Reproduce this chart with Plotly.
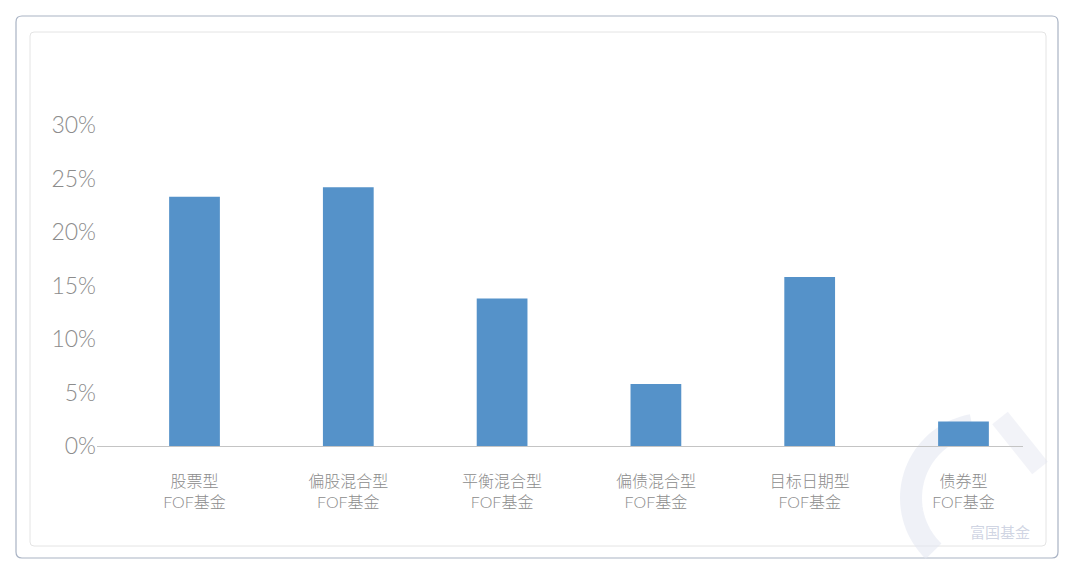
import math
import plotly.graph_objects as go

categories = ["股票型<br>FOF基金", "偏股混合型<br>FOF基金", "平衡混合型<br>FOF基金",
              "偏债混合型<br>FOF基金", "目标日期型<br>FOF基金", "债券型<br>FOF基金"]
values = [23.3, 24.2, 13.8, 5.8, 15.8, 2.3]
y_ticks = [0, 5, 10, 15, 20, 25, 30]
y_ticklabels = ["0%", "5%", "10%", "15%", "20%", "25%", "30%"]

OFF = 8  # page body margin
W, H = 1080 - OFF, 575 - OFF
L, R, T, B = 97 - OFF, 1023 - OFF, 125 - OFF, 446 - OFF  # plot area pixel bounds


def px(x):
    return (x - OFF - L) / (R - L)


def py(y):
    return (B - (y - OFF)) / (B - T)


def rounded_rect(x0, y0, x1, y1, r):
    rx = r / (R - L)
    ry = r / (B - T)
    X0, X1 = px(x0), px(x1)
    Y0, Y1 = py(y0), py(y1)
    return (f"M {X0+rx} {Y0} L {X1-rx} {Y0} Q {X1} {Y0} {X1} {Y0-ry} "
            f"L {X1} {Y1+ry} Q {X1} {Y1} {X1-rx} {Y1} "
            f"L {X0+rx} {Y1} Q {X0} {Y1} {X0} {Y1+ry} "
            f"L {X0} {Y0-ry} Q {X0} {Y0} {X0+rx} {Y0} Z")


fig = go.Figure()
fig.add_trace(go.Bar(
    x=categories, y=values,
    marker=dict(color="#5592C9", line=dict(width=0)),
    hoverinfo="skip",
))

font_family = "Lato, 'Noto Sans CJK SC', sans-serif"

shapes = [
    dict(type="path", xref="paper", yref="paper",
         path=rounded_rect(16, 16, 1058, 558, 6),
         line=dict(color="#A9B3C4", width=1.2), fillcolor="rgba(0,0,0,0)", layer="below"),
    dict(type="path", xref="paper", yref="paper",
         path=rounded_rect(30, 32, 1046, 546, 4),
         line=dict(color="#E4E4E4", width=1), fillcolor="rgba(0,0,0,0)", layer="below"),
]

# faint watermark (logo) at bottom right
cx, cy, rr = 985, 498, 74
pts = []
for i in range(0, 37):
    a = math.radians(100 + i * 3.5)
    pts.append((cx + rr * math.cos(a), cy - rr * math.sin(a)))
path = "M " + " L ".join(f"{px(x)} {py(y)}" for x, y in pts)
shapes.append(dict(type="path", xref="paper", yref="paper", path=path,
                   line=dict(color="rgba(226,229,240,0.55)", width=22), layer="below"))
shapes.append(dict(type="path", xref="paper", yref="paper",
                   path=f"M {px(1000)} {py(418)} L {px(1040)} {py(468)}",
                   line=dict(color="rgba(226,229,240,0.45)", width=20), layer="below"))

fig.update_layout(
    width=W, height=H,
    margin=dict(l=L, r=W - R, t=T, b=H - B, pad=0),
    paper_bgcolor="white", plot_bgcolor="white",
    showlegend=False,
    bargap=0.67,
    font=dict(family=font_family, color="#8C8C8C"),
    shapes=shapes,
    annotations=[dict(text="富国基金", x=px(1000), y=py(531), xref="paper", yref="paper",
                      xanchor="center", yanchor="middle",
                      showarrow=False, font=dict(size=15, color="rgba(196,202,220,0.8)",
                                                 family="'Noto Sans CJK SC'"))],
    xaxis=dict(
        range=[-0.634, 5.387],
        showline=True, linecolor="#C4C4C4", linewidth=1,
        showgrid=False, zeroline=False, ticks="",
        tickfont=dict(size=16, color="#8C8C8C", family=font_family, weight=300),
        ticklabelstandoff=21,
    ),
    yaxis=dict(
        range=[0, 30.01],
        tickvals=y_ticks, ticktext=y_ticklabels,
        showline=False, showgrid=False, zeroline=False, ticks="",
        tickfont=dict(size=23, color="#8C8C8C", family=font_family, weight=300),
        ticklabelstandoff=0,
    ),
)

fig.write_html("out.html")
